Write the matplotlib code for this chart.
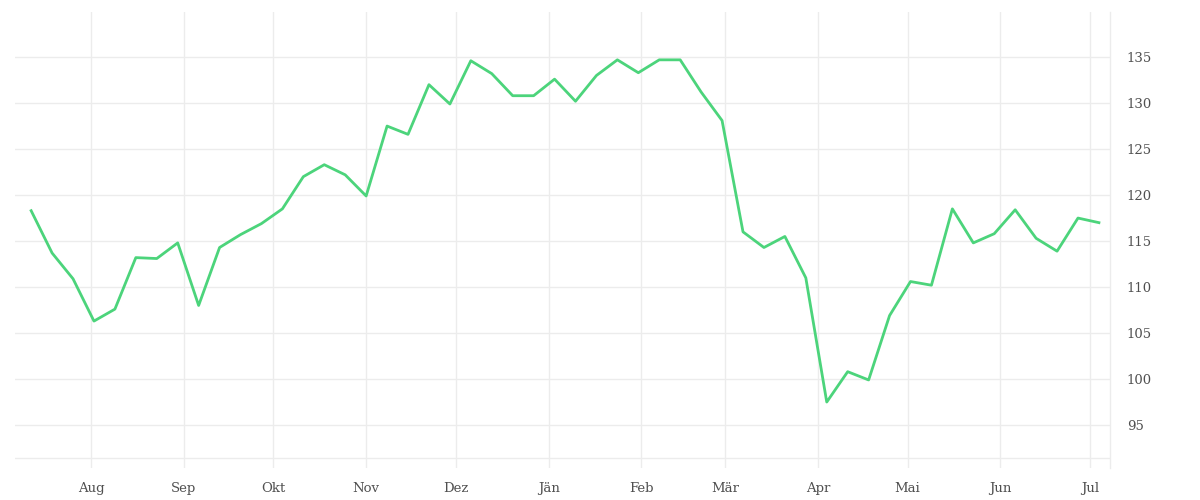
import matplotlib
matplotlib.use("Agg")
import matplotlib.pyplot as plt
import pandas as pd

# weekly values
start = "2022-07-12"
values = [118.3, 113.7, 110.9, 106.3, 107.6, 113.2, 113.1, 114.8, 108.0, 114.3,
          115.7, 116.9, 118.5, 122.0, 123.3, 122.2, 119.9, 127.5, 126.6, 132.0,
          129.9, 134.6, 133.2, 130.8, 130.8, 132.6, 130.2, 133.0, 134.7, 133.3,
          134.7, 134.7, 131.2, 128.1, 116.0, 114.3, 115.5, 111.0, 97.5, 100.8,
          99.9, 106.9, 110.6, 110.2, 118.5, 114.8, 115.8, 118.4, 115.3, 113.9,
          117.5, 117.0]
month_ticks = ["2022-08-01", "2022-09-01", "2022-10-01", "2022-11-01", "2022-12-01",
               "2023-01-01", "2023-02-01", "2023-03-01", "2023-04-01", "2023-05-01",
               "2023-06-01", "2023-07-01"]
month_labels = ["Aug", "Sep", "Okt", "Nov", "Dez", "Jän", "Feb", "Mär", "Apr",
                "Mai", "Jun", "Jul"]
y_ticks = [95, 100, 105, 110, 115, 120, 125, 130, 135]

dates = pd.date_range(start, periods=len(values), freq="7D")
grid_col = "#ececec"
text_col = "#505050"
plt.rcParams["font.family"] = ["DejaVu Serif"]

fig = plt.figure(figsize=(12, 5), dpi=100)
ax = fig.add_axes([15 / 1200, 32 / 500, 1095 / 1200, 456 / 500])

ax.plot(dates, values, color="#4cd47b", linewidth=2.0)

ax.set_xlim(pd.Timestamp("2022-08-01") - pd.Timedelta(days=25.4),
            pd.Timestamp("2022-08-01") + pd.Timedelta(days=340.7))
ax.set_ylim(90.33, 139.9)

ax.set_xticks(pd.to_datetime(month_ticks))
ax.set_xticklabels(month_labels)
ax.set_yticks(y_ticks)
ax.yaxis.tick_right()
ax.axhline(91.4, color=grid_col, linewidth=1.0, zorder=0)

ax.grid(True, color=grid_col, linewidth=1.0, zorder=0)
ax.set_axisbelow(True)
ax.tick_params(axis="both", length=0, labelsize=9.5, labelcolor=text_col)
ax.tick_params(axis="x", pad=10)
ax.tick_params(axis="y", pad=12)
for side in ["top", "left", "bottom"]:
    ax.spines[side].set_visible(False)
ax.spines["right"].set_color(grid_col)
ax.spines["right"].set_linewidth(1.0)

fig.savefig("out.png", dpi=100, facecolor="white")
